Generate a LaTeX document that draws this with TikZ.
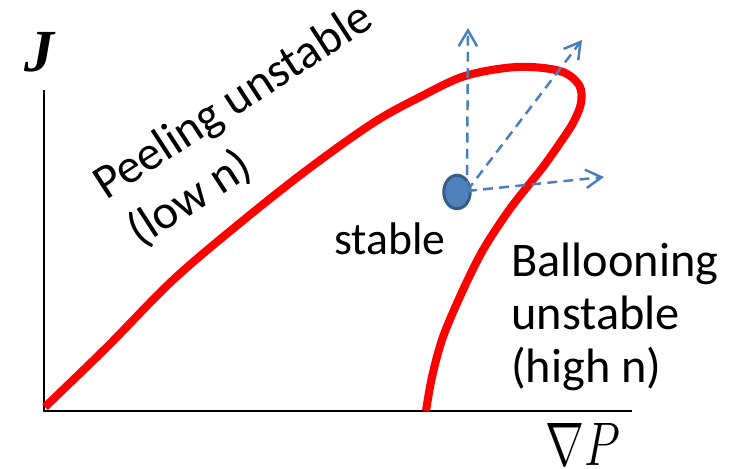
\RequirePackage{fix-cm}
\documentclass[tikz,border=0pt]{standalone}
\usepackage{fontspec}
\setmainfont{Carlito}
\newfontfamily\axisfont{Liberation Serif}
\usetikzlibrary{arrows.meta,shapes.geometric}
\definecolor{peelred}{HTML}{FF0000}
\definecolor{dotblue}{HTML}{4F81BD}
\definecolor{dotedge}{HTML}{385D8A}
\definecolor{probeblue}{HTML}{4A7EBB}

\begin{document}
\begin{tikzpicture}[x=0.02cm,y=-0.02cm,
  lbl/.style={inner sep=0pt, font=\fontsize{27.5}{33}\selectfont},
  probe/.style={draw=probeblue, line width=1.4pt, dash pattern=on 5.6pt off 3.6pt,
    -{Straight Barb[length=9pt,width=10.5pt]}}]
\useasboundingbox (0,0) rectangle (731,469);
% axes
\draw[line width=1.1pt] (44,90) -- (44,411) -- (632,411);
\node[inner sep=0pt, font=\fontsize{34}{40}\selectfont] (jlab) at (39,52) {\axisfont\bfseries\itshape J};
\node[inner sep=0pt, xscale=0.76, font=\fontsize{35}{42}\selectfont] (gradp) at (583,444) {$\nabla P$};
% stability boundary
\draw[peelred, line width=4.6pt] plot[smooth, tension=0.55] coordinates {
  (45,407) (107,347) (173,280) (240,223) (307,170) (373,123) (420,97) (465,76)
  (517,67) (560,71) (579,85) (581,103) (573,123) (560,143) (543,167) (527,187)
  (507,213) (483,250) (463,290) (443,337) (432,377) (426,411)};
% operating point
\node[ellipse, draw=dotedge, fill=dotblue, line width=1.7pt,
  minimum width=0.53cm, minimum height=0.67cm, inner sep=0pt] (dot) at (457,192) {};
\coordinate (src) at (467,191);
\coordinate (tipup) at (468,28);
\coordinate (tipdiag) at (582,40);
\coordinate (tipright) at (604,177);
\draw[probe] (src) -- (tipup);
\draw[probe] (src) -- (tipdiag);
\draw[probe] (src) -- (tipright);
% labels
\node[lbl, anchor=base west, rotate=33] (peel) at (106,201) {Peeling unstable};
\node[lbl, anchor=base west, rotate=33] (lown) at (140,248) {(low n)};
\node[lbl, anchor=base west, font=\fontsize{26}{31}\selectfont] (stab) at (334,255) {stable};
\node[lbl, anchor=base west] (ball) at (511,277) {Ballooning};
\node[lbl, anchor=base west] (unst) at (511,330) {unstable};
\node[lbl, anchor=base west] (highn) at (511,383) {(high n)};
\end{tikzpicture}
\end{document}
